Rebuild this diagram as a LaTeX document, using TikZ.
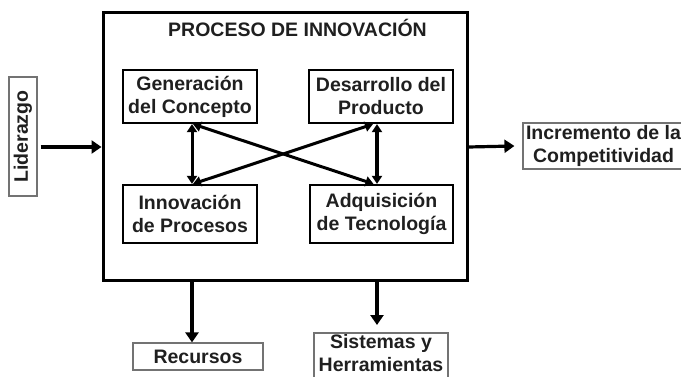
\documentclass[tikz,border=0pt]{standalone}
\usepackage{fontspec}
\setmainfont{Liberation Sans}
\usetikzlibrary{arrows.meta,calc}
\begin{document}
\begin{tikzpicture}[x=1pt,y=-1pt,
 txt/.style={font=\bfseries\fontsize{19.5}{23}\selectfont, text=black!88, align=center},
 inbox/.style={txt, draw=black, line width=2.2pt, inner sep=0pt},
 thinbox/.style={txt, draw=black!55, line width=1.2pt, inner sep=0pt},
 thinline/.style={draw=black!55, line width=1.2pt},
 bigarr/.style={line width=3.2pt, -{Triangle[length=10pt,width=13pt]}},
 smarr/.style={line width=3pt, {Triangle[length=8pt,width=10pt]}-{Triangle[length=8pt,width=10pt]}}]
\useasboundingbox (0,0) rectangle (681,377);
\clip (0,0) rectangle (681,377);
% main box
\node[draw=black, line width=3pt, minimum width=364pt, minimum height=268pt, inner sep=0pt] (main) at (285,147) {};
\node[txt] (title) at (297.5,28) {PROCESO DE INNOVACIÓN};
% inner boxes
\node[inbox, minimum width=134pt, minimum height=53pt] (gen) at (190,96.5) {Generación\\del Concepto};
\node[inbox, minimum width=144pt, minimum height=53pt] (des) at (381,96.5) {Desarrollo del\\Producto};
\node[inbox, minimum width=134pt, minimum height=58pt] (inn) at (190,214) {Innovación\\de Procesos};
\node[inbox, minimum width=143pt, minimum height=58pt] (adq) at (381.5,214) {Adquisición\\de Tecnología};
% inner arrows
\draw[smarr] ([xshift=2pt]gen.south) -- ([xshift=2pt]inn.north);
\draw[smarr, line width=4pt] ([xshift=-4pt]des.south) -- ([xshift=-4.5pt]adq.north);
\draw[smarr] ([xshift=3pt]gen.south) -- ([xshift=-8pt]adq.north);
\draw[smarr] ([xshift=-8pt]des.south) -- ([xshift=3pt]inn.north);
% outer boxes
\node[thinbox, rotate=90, minimum width=119pt, minimum height=28pt] (lid) at (23,136.5) {Liderazgo};
\node[thinbox, minimum width=161pt, minimum height=46pt] (inc) at (603.5,146) {Incremento de la\\Competitividad};
\node[thinbox, minimum width=130pt, minimum height=27pt] (rec) at (198,356.5) {Recursos};
\node[txt, inner sep=0pt] (sis) at (381,353.5) {Sistemas y\\Herramientas};
\coordinate (sisNW) at (314,333);
\coordinate (sisSE) at (448,384);
\draw[thinline] (sisNW) rectangle (sisSE);
% outer arrows
\draw[bigarr] ([xshift=3pt]lid.south |- main.west) -- (main.west);
\draw[bigarr] (main.east) -- ([xshift=-8pt]inc.west);
\draw[bigarr] ([xshift=2pt]gen.south |- main.south) -- ([xshift=2pt]gen.south |- rec.north);
\draw[bigarr] ([xshift=-4pt]des.south |- main.south) -- ($(des.south |- sisNW)+(-4,-8)$);
\end{tikzpicture}
\end{document}
